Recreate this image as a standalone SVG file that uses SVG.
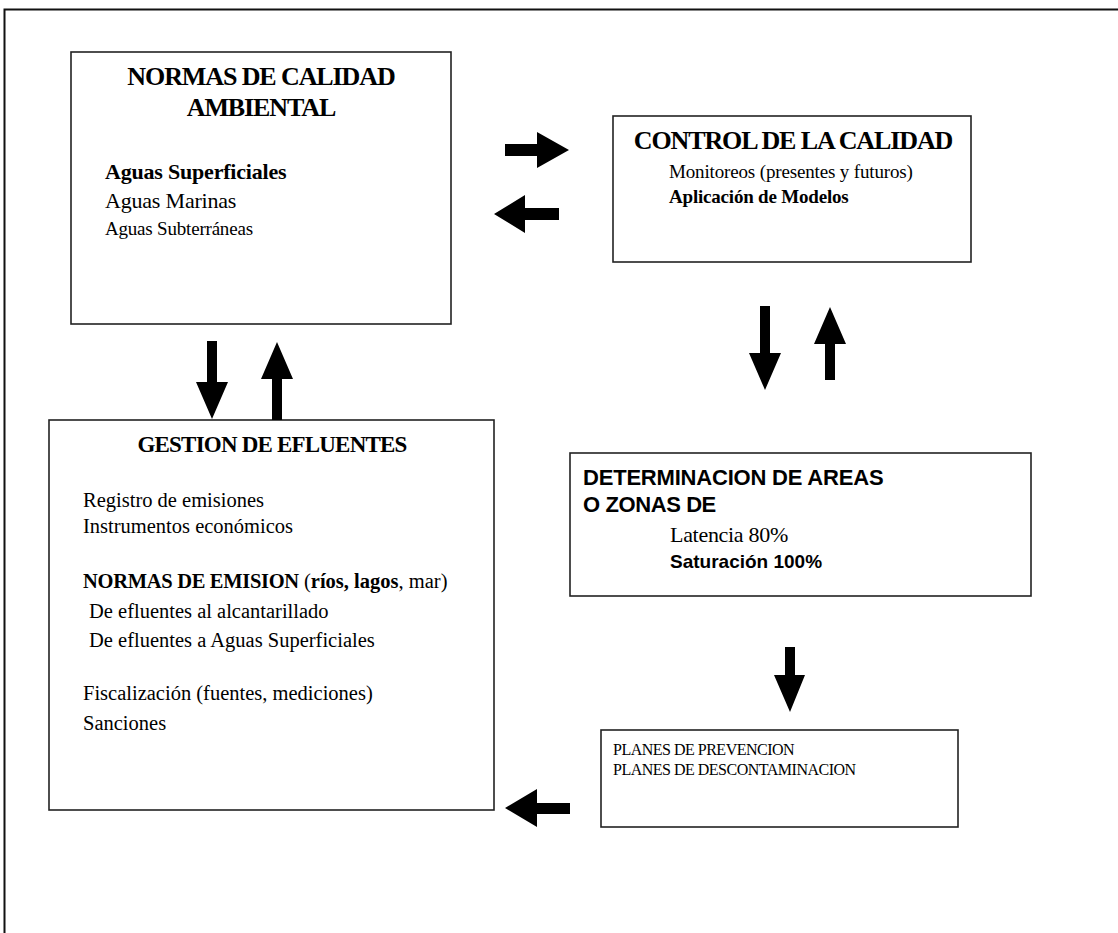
<svg xmlns="http://www.w3.org/2000/svg" width="1118" height="933" viewBox="0 0 1118 933">
<style>
.box{fill:#fff;stroke:#222;stroke-width:1.6}
.arr{fill:#000;stroke:none}
.s{font-family:"Liberation Serif","Times New Roman",serif;fill:#000}
.a{font-family:"Liberation Sans",Arial,sans-serif;fill:#000}
.b{font-weight:bold}
.t{font-size:26px;font-weight:bold;letter-spacing:-1.1px}
</style>
<rect width="1118" height="933" fill="#fff"/>
<path d="M4.5,933 V9.5 H1118" fill="none" stroke="#111" stroke-width="2"/>

<g id="normas">
<rect class="box" x="71" y="52" width="380" height="272"/>
<text class="s t" x="261" y="85" text-anchor="middle">NORMAS DE CALIDAD</text>
<text class="s t" x="261" y="116" text-anchor="middle">AMBIENTAL</text>
<text class="s b" x="105" y="179" font-size="22" letter-spacing="-0.2">Aguas Superficiales</text>
<text class="s" x="105" y="208" font-size="22" letter-spacing="-0.2">Aguas Marinas</text>
<text class="s" x="105" y="235" font-size="19" letter-spacing="-0.2">Aguas Subterráneas</text>
</g>

<g id="control">
<rect class="box" x="613" y="116" width="358" height="146"/>
<text class="s t" x="793" y="149" text-anchor="middle" letter-spacing="-1.2">CONTROL DE LA CALIDAD</text>
<text class="s" x="669" y="178" font-size="19" letter-spacing="-0.15">Monitoreos (presentes y futuros)</text>
<text class="s b" x="669" y="203" font-size="19" letter-spacing="-0.2">Aplicación de Modelos</text>
</g>

<g id="gestion">
<rect class="box" x="49" y="420" width="445" height="390"/>
<text class="s b" x="272" y="452" text-anchor="middle" font-size="23" letter-spacing="-0.8">GESTION DE EFLUENTES</text>
<text class="s" x="83" y="507" font-size="20.5">Registro de emisiones</text>
<text class="s" x="83" y="533" font-size="20.5">Instrumentos económicos</text>
<text class="s" x="83" y="588" font-size="20.5"><tspan class="b" letter-spacing="-0.3">NORMAS DE EMISION</tspan> (<tspan class="b">ríos, lagos</tspan>, mar)</text>
<text class="s" x="89" y="618" font-size="20.5">De efluentes al alcantarillado</text>
<text class="s" x="89" y="647" font-size="20.5">De efluentes a Aguas Superficiales</text>
<text class="s" x="83" y="700" font-size="20.5">Fiscalización (fuentes, mediciones)</text>
<text class="s" x="83" y="730" font-size="20.5">Sanciones</text>
</g>

<g id="determinacion">
<rect class="box" x="570" y="453" width="461" height="143"/>
<text class="a b" x="583" y="485" font-size="22" letter-spacing="-0.2">DETERMINACION DE AREAS</text>
<text class="a b" x="583" y="512" font-size="22" letter-spacing="-0.4">O ZONAS DE</text>
<text class="s" x="670" y="542" font-size="22" letter-spacing="-0.3">Latencia 80%</text>
<text class="a b" x="670" y="568" font-size="19" letter-spacing="0">Saturación 100%</text>
</g>

<g id="planes">
<rect class="box" x="601" y="730" width="357" height="97"/>
<text class="s" x="613" y="755" font-size="16" letter-spacing="-0.5">PLANES DE PREVENCION</text>
<text class="s" x="613" y="775" font-size="16" letter-spacing="-0.5">PLANES DE DESCONTAMINACION</text>
</g>

<g id="connectors">
<polygon class="arr" points="505,144 537,144 537,132 569,150 537,168 537,156 505,156"/>
<polygon class="arr" points="494,214 525,195 525,208 559,208 559,220 525,220 525,233"/>
<polygon class="arr" points="207,341 217,341 217,382 228,382 212,419 196,382 207,382"/>
<polygon class="arr" points="277,342 293,379 282,379 282,420 272,420 272,379 261,379"/>
<polygon class="arr" points="760,306 770,306 770,353 781,353 765,390 749,353 760,353"/>
<polygon class="arr" points="830,307 846,344 835,344 835,380 825,380 825,344 814,344"/>
<polygon class="arr" points="785,647 795,647 795,675 805,675 790,712 774,675 785,675"/>
<polygon class="arr" points="505,808 537,789 537,803 570,803 570,814 537,814 537,827"/>
</g>
</svg>
